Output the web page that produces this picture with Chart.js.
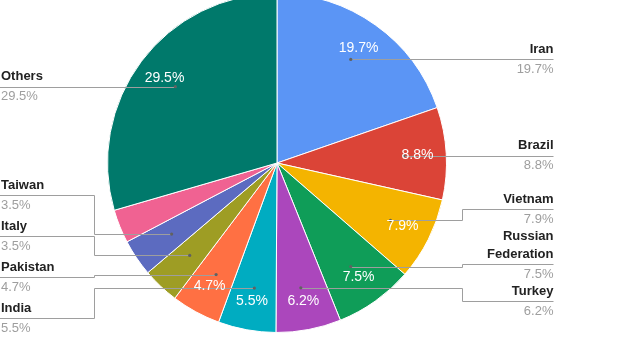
<!DOCTYPE html>
<html>
<head>
<meta charset="utf-8">
<script src="https://cdn.jsdelivr.net/npm/chart.js@4"></script>
<style>
  html, body { margin: 0; padding: 0; background: #fff; overflow: hidden; width: 630px; height: 350px; }
  #wrap { position: absolute; left: 0; top: -7px; width: 630px; height: 357px; }
</style>
</head>
<body>
<div id="wrap"><canvas id="c" width="630" height="357"></canvas></div>
<script>
// Share by country (percent). The small pink slice carries no callout.
const categories = ['Iran', 'Brazil', 'Vietnam', 'Russian Federation', 'Turkey', 'India', 'Pakistan', 'Italy', 'Taiwan', '', 'Others'];
const shares = [19.7, 8.8, 7.9, 7.5, 6.2, 5.5, 4.7, 3.5, 3.5, 3.2, 29.5];
const sliceColors = ['#5b95f5', '#DB4437', '#F4B400', '#0F9D58', '#AB47BC', '#00ACC1', '#FF7043', '#9E9D24', '#5C6BC0', '#F06292', '#00796B'];

const FONT = '"Liberation Sans", Arial, sans-serif';
const total = shares.reduce((a, b) => a + b, 0);
const pctText = v => (v / total * 100).toFixed(1) + '%';

function wrapWords(ctx, text, maxW) {
  const words = text.split(' ');
  const lines = [];
  let cur = '';
  for (const w of words) {
    const t = cur ? cur + ' ' + w : w;
    if (cur && ctx.measureText(t).width > maxW) { lines.push(cur); cur = w; }
    else cur = t;
  }
  if (cur) lines.push(cur);
  return lines;
}

// Stack callouts on one side so their text blocks never overlap:
// overlapping neighbours are merged into a cluster centred on their anchors.
function stackCallouts(items, gap, maxBottom) {
  const clusters = [];
  for (const it of items) {
    let c = { items: [it], offs: [0] };
    c.start = it.want;
    clusters.push(c);
    while (clusters.length > 1) {
      const cur = clusters[clusters.length - 1];
      const prev = clusters[clusters.length - 2];
      const pl = prev.items.length - 1;
      const prevBottom = prev.start + prev.offs[pl] + prev.items[pl].hBot;
      const curTop = cur.start - cur.items[0].hTop;
      if (curTop >= prevBottom + gap) break;
      // merge
      let off = prev.offs[pl];
      let last = prev.items[pl];
      for (const ci of cur.items) {
        off = off + last.hBot + gap + ci.hTop;
        prev.items.push(ci); prev.offs.push(off);
        last = ci;
      }
      let s = 0;
      prev.items.forEach((ci, k) => { s += ci.want - prev.offs[k]; });
      prev.start = s / prev.items.length;
      clusters.pop();
    }
  }
  for (let k = clusters.length - 1; k >= 0; k--) {
    const c = clusters[k];
    const l = c.items.length - 1;
    const bottom = c.start + c.offs[l] + c.items[l].hBot;
    if (bottom > maxBottom) c.start -= bottom - maxBottom;
    maxBottom = c.start - c.items[0].hTop - gap;
    c.items.forEach((ci, j) => { ci.lineY = c.start + c.offs[j]; });
  }
}

const calloutPlugin = {
  id: 'callouts',
  afterDatasetsDraw(chart) {
    const ctx = chart.ctx;
    const arcs = chart.getDatasetMeta(0).data;
    const cx = arcs[0].x, cy = arcs[0].y, R = arcs[0].outerRadius;
    const rightEnd = cx + R + 107, leftStart = 1;
    const elbowR = cx + R + 15, elbowL = cx - R - 14;

    ctx.save();
    ctx.font = 'bold 13px ' + FONT;
    const right = [], left = [];
    arcs.forEach((a, i) => {
      if (!categories[i]) return;
      const mid = (a.startAngle + a.endAngle) / 2;
      const dx = Math.cos(mid) * R * 0.75, dy = Math.sin(mid) * R * 0.75;
      const lines = wrapWords(ctx, categories[i], 100);
      const it = {
        i, lines, dotX: cx + dx, dotY: cy + dy, want: cy + dy,
        hTop: 17 + 18 * (lines.length - 1), hBot: 17
      };
      (dx >= 0 ? right : left).push(it);
    });
    right.sort((a, b) => a.want - b.want);
    left.sort((a, b) => a.want - b.want);
    const maxBottom = chart.height - 15;
    stackCallouts(right, 3, maxBottom);
    stackCallouts(left, 7, maxBottom);

    // leader lines
    ctx.strokeStyle = '#9e9e9e';
    ctx.lineWidth = 1;
    const px = v => Math.round(v) + 0.5;
    for (const it of right) {
      ctx.beginPath();
      ctx.moveTo(it.dotX, px(it.dotY));
      if (Math.abs(it.lineY - it.dotY) > 0.5) {
        ctx.lineTo(px(elbowR), px(it.dotY));
        ctx.lineTo(px(elbowR), px(it.lineY));
      }
      ctx.lineTo(rightEnd, px(it.lineY));
      ctx.stroke();
    }
    for (const it of left) {
      ctx.beginPath();
      ctx.moveTo(it.dotX, px(it.dotY));
      if (Math.abs(it.lineY - it.dotY) > 0.5) {
        ctx.lineTo(px(elbowL), px(it.dotY));
        ctx.lineTo(px(elbowL), px(it.lineY));
      }
      ctx.lineTo(0, px(it.lineY));
      ctx.stroke();
    }
    ctx.fillStyle = '#616161';
    for (const it of right.concat(left)) {
      ctx.beginPath();
      ctx.arc(it.dotX, it.dotY, 1.6, 0, Math.PI * 2);
      ctx.fill();
    }

    // percentages inside the slices
    ctx.font = '14px ' + FONT;
    ctx.fillStyle = '#ffffff';
    ctx.textAlign = 'center';
    ctx.textBaseline = 'middle';
    arcs.forEach((a, i) => {
      if (a.endAngle - a.startAngle < 0.25) return;
      const mid = (a.startAngle + a.endAngle) / 2;
      ctx.fillText(pctText(shares[i]), cx + Math.cos(mid) * R * 0.83, cy + Math.sin(mid) * R * 0.83);
    });

    // callout text
    const drawSide = (items, x, align) => {
      ctx.textAlign = align;
      for (const it of items) {
        ctx.font = 'bold 13px ' + FONT;
        ctx.fillStyle = '#222222';
        const n = it.lines.length;
        it.lines.forEach((ln, k) => {
          ctx.fillText(ln, x, it.lineY - 10 - 18 * (n - 1 - k));
        });
        ctx.font = '13px ' + FONT;
        ctx.fillStyle = '#9e9e9e';
        ctx.fillText(pctText(shares[it.i]), x, it.lineY + 10);
      }
    };
    drawSide(right, rightEnd, 'right');
    drawSide(left, leftStart, 'left');
    ctx.restore();
  }
};

new Chart(document.getElementById('c'), {
  type: 'pie',
  data: {
    labels: categories,
    datasets: [{
      data: shares,
      backgroundColor: sliceColors,
      borderColor: '#ffffff',
      borderWidth: 1
    }]
  },
  options: {
    responsive: false,
    devicePixelRatio: 1,
    animation: false,
    layout: { padding: { left: 107, right: 183, top: 0, bottom: 17 } },
    plugins: { legend: { display: false }, tooltip: { enabled: false } }
  },
  plugins: [calloutPlugin]
});
</script>
</body>
</html>
